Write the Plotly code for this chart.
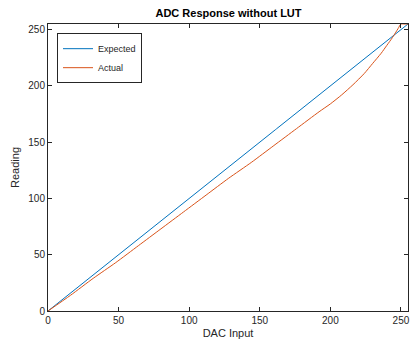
import plotly.graph_objects as go

dac_input = list(range(0, 256))
expected = list(range(0, 256))

actual_x = [0, 16, 32, 48, 64, 80, 96, 112, 128, 144, 160, 176, 192, 200, 208, 216, 224, 230, 236, 240, 244, 248, 250, 252, 255]
actual_y = [0, 14, 29, 43, 58, 73, 88, 103, 118, 132, 147, 162, 177, 184, 192, 201, 211, 220, 229, 236, 243, 251, 255, 255, 255]

font_family = "Liberation Sans, Arial, sans-serif"
axis_color = "#262626"

fig = go.Figure()
fig.add_trace(go.Scatter(x=dac_input, y=expected, mode="lines", name="Expected",
                         line=dict(color="#0072BD", width=1)))
fig.add_trace(go.Scatter(x=actual_x, y=actual_y, mode="lines", name="Actual",
                         line=dict(color="#D95319", width=1, shape="spline", smoothing=0.6)))

axis_common = dict(
    showgrid=False, zeroline=False, showline=True, linecolor=axis_color, linewidth=1,
    mirror="ticks", ticks="inside", ticklen=4, tickcolor=axis_color,
    tickfont=dict(size=10, color=axis_color, family=font_family),
    ticklabeloverflow="allow",
)

fig.update_layout(
    width=411, height=349,
    margin=dict(l=48, r=1, t=24, b=38),
    paper_bgcolor="white", plot_bgcolor="white",
    title=dict(text="<b>ADC Response without LUT</b>", x=0.556, xanchor="center",
               y=0.962, yanchor="middle",
               font=dict(size=11, color="#000000", family=font_family)),
    xaxis=dict(range=[0, 255], tickvals=[0, 50, 100, 150, 200, 250],
               title=dict(text="DAC Input", standoff=4,
                          font=dict(size=11, color=axis_color, family=font_family)),
               **axis_common),
    yaxis=dict(range=[0, 255], tickvals=[0, 50, 100, 150, 200, 250],
               title=dict(text="Reading", standoff=6,
                          font=dict(size=11, color=axis_color, family=font_family)),
               **axis_common),
    legend=dict(x=0.025, y=0.968, xanchor="left", yanchor="top",
                bgcolor="white", bordercolor=axis_color, borderwidth=1,
                font=dict(size=9, color=axis_color, family=font_family),
                tracegroupgap=0, itemwidth=30),
    showlegend=True,
)

fig.write_html("out.html", config={"displayModeBar": False},
               post_script="document.body.style.margin='0';document.body.style.overflow='hidden';")
